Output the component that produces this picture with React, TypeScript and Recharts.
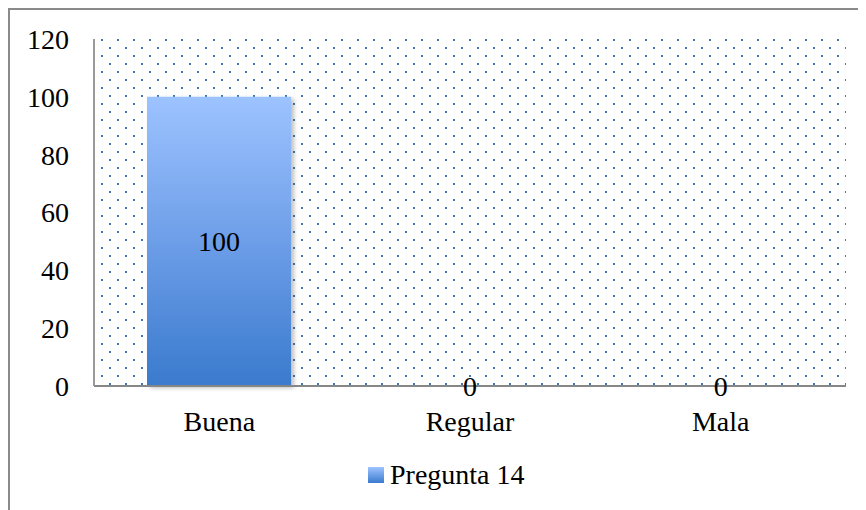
import { Bar, BarChart, CartesianGrid, Legend, ReferenceDot, XAxis, YAxis } from 'recharts';

const categories = ['Buena', 'Regular', 'Mala'];
const pregunta14 = [100, 0, 0];
const yTicks = [0, 20, 40, 60, 80, 100, 120];
const seriesName = 'Pregunta 14';

const data = categories.map((name, i) => ({ name, value: pregunta14[i] }));

const font = '"Liberation Serif", "Times New Roman", serif';
const fontSize = 28;

function LegendBox() {
  return (
    <div style={{ display: 'flex', alignItems: 'center', fontFamily: font, fontSize, color: '#000' }}>
      <svg width={16} height={16} style={{ marginRight: 6 }}>
        <defs>
          <linearGradient id="legendGrad" x1="0" y1="0" x2="0" y2="1">
            <stop offset="0%" stopColor="#9dc3ff" />
            <stop offset="100%" stopColor="#3a7acd" />
          </linearGradient>
        </defs>
        <rect x={0} y={0} width={16} height={16} fill="url(#legendGrad)" />
      </svg>
      <span>{seriesName}</span>
    </div>
  );
}

// value label centred in the bar
function renderValueLabel(props: any) {
  const { x, y, width, height, value } = props;
  if (!value) return null;
  return (
    <text
      x={x + width / 2}
      y={y + height / 2}
      textAnchor="middle"
      dominantBaseline="central"
      fontFamily={font}
      fontSize={fontSize}
      fill="#000"
    >
      {value}
    </text>
  );
}

// zero-height bars don't get a label from recharts, put it on the axis instead
function renderZeroLabel(props: any) {
  const { viewBox, value } = props;
  const cx = viewBox.x + viewBox.width / 2;
  const cy = viewBox.y + viewBox.height / 2;
  return (
    <text x={cx} y={cy} textAnchor="middle" dominantBaseline="central" fontFamily={font} fontSize={fontSize} fill="#000">
      {value}
    </text>
  );
}

export default function App() {
  return (
    <div
      style={{
        width: 858,
        height: 502,
        borderTop: '2px solid #8a8a8a',
        borderLeft: '2px solid #8a8a8a',
        background: '#fff',
      }}
    >
      <BarChart width={856} height={500} data={data} margin={{ top: 29, right: 20, left: 0, bottom: 0 }}>
        <defs>
          <pattern id="dots" patternUnits="userSpaceOnUse" x={11} y={13} width={16} height={16}>
            <rect x={0} y={0} width={2} height={2} fill="#3f77b8" />
            <rect x={8} y={8} width={2} height={2} fill="#3f77b8" />
          </pattern>
          <linearGradient id="barGrad" x1="0" y1="0" x2="0" y2="1">
            <stop offset="0%" stopColor="#9dc3ff" />
            <stop offset="50%" stopColor="#6d9ee8" />
            <stop offset="100%" stopColor="#3a7acd" />
          </linearGradient>
          <filter id="shadow" x="-10%" y="-10%" width="130%" height="130%">
            <feDropShadow dx={3} dy={2} stdDeviation={2} floodColor="#000" floodOpacity={0.25} />
          </filter>
        </defs>
        <CartesianGrid horizontal={false} vertical={false} fill="url(#dots)" />
        <XAxis
          dataKey="name"
          axisLine={{ stroke: '#868686', strokeWidth: 2 }}
          tickLine={false}
          tickSize={0}
          tickMargin={25}
          height={92}
          tick={{ fontFamily: font, fontSize, fill: '#000' }}
        />
        <YAxis
          domain={[0, 120]}
          ticks={yTicks}
          width={84}
          axisLine={{ stroke: '#9a9a9a', strokeWidth: 2 }}
          tickLine={false}
          tickSize={0}
          tickMargin={25}
          tick={{ fontFamily: font, fontSize, fill: '#000' }}
        />
        <Legend
          content={() => <LegendBox />}
          wrapperStyle={{ position: 'absolute', left: 358, top: 449, width: 'auto' }}
        />
        <Bar
          dataKey="value"
          name={seriesName}
          barSize={144}
          fill="url(#barGrad)"
          filter="url(#shadow)"
          label={renderValueLabel}
          isAnimationActive={false}
        />
        {data
          .filter((d) => d.value === 0)
          .map((d) => (
            <ReferenceDot
              key={d.name}
              x={d.name}
              y={d.value}
              r={0}
              fill="none"
              stroke="none"
              ifOverflow="visible"
              label={(p: any) => renderZeroLabel({ ...p, value: d.value })}
            />
          ))}
      </BarChart>
    </div>
  );
}
